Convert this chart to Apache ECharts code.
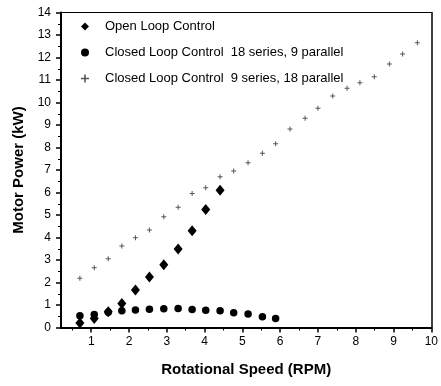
<!DOCTYPE html>
<html>
<head>
<meta charset="utf-8">
<script src="https://cdn.jsdelivr.net/npm/echarts@6/dist/echarts.min.js"></script>
<style>
  html, body { margin: 0; padding: 0; background: #fff; }
  #chart { width: 441px; height: 386px; }
</style>
</head>
<body>
<div id="chart"></div>
<script>
// rotational speed (RPM), shared by the three runs
const speed = [0.7, 1.08, 1.45, 1.81, 2.17, 2.54, 2.92, 3.3, 3.67, 4.03, 4.41, 4.77, 5.15,
  5.53, 5.88, 6.26, 6.66, 7.0, 7.39, 7.77, 8.11, 8.49, 8.89, 9.24, 9.63];

// motor power (kW)
const openLoop = [0.2, 0.4, 0.7, 1.07, 1.67, 2.24, 2.79, 3.49, 4.3, 5.25, 6.1];
const closed18s9p = [0.52, 0.58, 0.68, 0.74, 0.78, 0.81, 0.83, 0.85, 0.8, 0.77, 0.74, 0.66, 0.6, 0.48, 0.4];
const closed9s18p = [2.19, 2.66, 3.06, 3.62, 3.99, 4.33, 4.92, 5.34, 5.96, 6.21, 6.7, 6.96, 7.32,
  7.74, 8.17, 8.82, 9.3, 9.74, 10.29, 10.63, 10.88, 11.15, 11.71, 12.16, 12.66];

const xMajor = [1, 2, 3, 4, 5, 6, 7, 8, 9, 10];
const xMinor = [0.5, 1.5, 2.5, 3.5, 4.5, 5.5, 6.5, 7.5, 8.5, 9.5];

const seriesNames = [
  'Open Loop Control',
  'Closed Loop Control  18 series, 9 parallel',
  'Closed Loop Control  9 series, 18 parallel'
];

function pairs(ys) {
  return ys.map((y, i) => [speed[i], y]);
}

const font = 'Arial, "Liberation Sans", sans-serif';
const plus = 'path://M2,0H3V2H5V3H3V5H2V3H0V2H2Z';

var chart = echarts.init(document.getElementById('chart'), null, { renderer: 'canvas' });

var option = {
  backgroundColor: '#fff',
  animation: false,
  textStyle: { fontFamily: font, color: '#000' },
  grid: { left: 61, right: 8, top: 12.5, bottom: 58.5 },
  legend: {
    orient: 'vertical',
    left: 76,
    top: 15,
    itemWidth: 8,
    itemHeight: 8,
    itemGap: 13,
    textStyle: { fontFamily: font, fontSize: 13, color: '#000', padding: [0, 0, 0, 11] },
    data: seriesNames
  },
  xAxis: [
    {
      type: 'value', min: 0.2, max: 10, position: 'bottom',
      name: 'Rotational Speed (RPM)', nameLocation: 'middle', nameGap: 35,
      nameTextStyle: { fontFamily: font, fontSize: 15, fontWeight: 'bold', color: '#000' },
      axisLine: { lineStyle: { color: '#000', width: 2 } },
      axisTick: { show: true, length: 5, customValues: xMajor, lineStyle: { color: '#000', width: 1.5 } },
      axisLabel: { customValues: xMajor, fontSize: 12, color: '#000', margin: 8 },
      splitLine: { show: false }
    },
    {
      type: 'value', min: 0.2, max: 10, position: 'bottom',
      axisLine: { show: false },
      axisTick: { show: true, length: 3, customValues: xMinor, lineStyle: { color: '#000', width: 1 } },
      axisLabel: { show: false },
      splitLine: { show: false }
    },
    {
      type: 'value', min: 0.2, max: 10, position: 'top',
      axisLine: { lineStyle: { color: '#000', width: 1 } },
      axisTick: { show: false }, axisLabel: { show: false }, splitLine: { show: false }
    }
  ],
  yAxis: [
    {
      type: 'value', min: 0, max: 14, interval: 1, position: 'left',
      name: 'Motor Power (kW)', nameLocation: 'middle', nameGap: 30,
      nameTextStyle: { fontFamily: font, fontSize: 15, fontWeight: 'bold', color: '#000' },
      axisLine: { show: true, lineStyle: { color: '#000', width: 2 } },
      axisTick: { show: true, length: 5, lineStyle: { color: '#000', width: 1.5 } },
      minorTick: { show: true, splitNumber: 2, length: 3, lineStyle: { color: '#000', width: 1 } },
      axisLabel: { fontSize: 12, color: '#000', margin: 10 },
      splitLine: { show: false }
    },
    {
      type: 'value', min: 0, max: 14, position: 'right',
      axisLine: { show: true, lineStyle: { color: '#000', width: 1.5 } },
      axisTick: { show: false }, axisLabel: { show: false }, splitLine: { show: false }
    }
  ],
  series: [
    {
      name: seriesNames[0], type: 'scatter', symbol: 'diamond', symbolSize: [9, 11],
      itemStyle: { color: '#000', opacity: 1 }, data: pairs(openLoop)
    },
    {
      name: seriesNames[1], type: 'scatter', symbol: 'circle', symbolSize: 7.5,
      itemStyle: { color: '#000', opacity: 1 }, data: pairs(closed18s9p)
    },
    {
      name: seriesNames[2], type: 'scatter', symbol: plus, symbolSize: 5,
      itemStyle: { color: '#555', opacity: 1 }, data: pairs(closed9s18p)
    }
  ]
};

chart.setOption(option);
</script>
</body>
</html>
